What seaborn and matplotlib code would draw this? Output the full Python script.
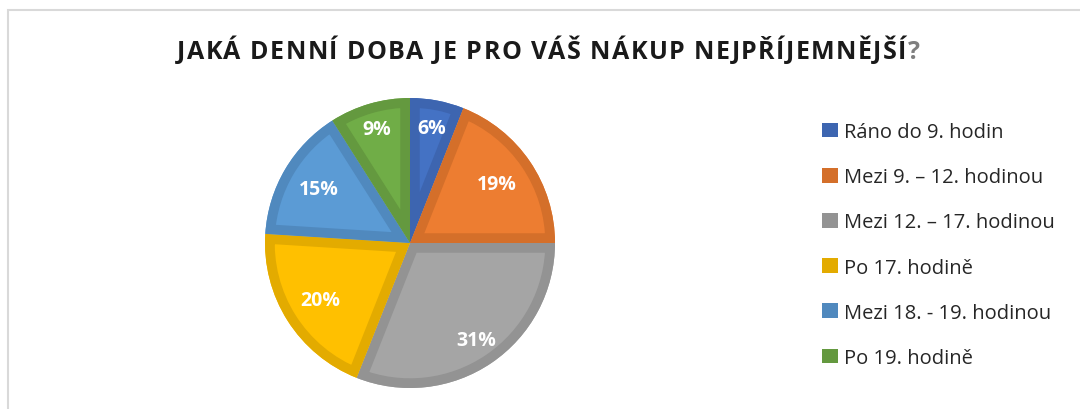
import matplotlib
matplotlib.use("Agg")
import matplotlib.pyplot as plt
import seaborn as sns
from matplotlib.patches import Rectangle, Patch, Wedge

categories = ["Ráno do 9. hodin", "Mezi 9. – 12. hodinou", "Mezi 12. – 17. hodinou",
              "Po 17. hodině", "Mezi 18. - 19. hodinou", "Po 19. hodině"]
shares = [6, 19, 31, 20, 15, 9]
fill_colors = ["#4472C4", "#ED7D31", "#A5A5A5", "#FFC000", "#5B9BD5", "#70AD47"]
edge_colors = ["#3D65B0", "#D46F2A", "#939393", "#E3AB00", "#5089BE", "#64993F"]
title_main = "JAKÁ DENNÍ DOBA JE PRO VÁŠ NÁKUP NEJPŘÍJEMNĚJŠÍ"

sns.set_theme(style="white")
plt.rcParams['font.family'] = ['Open Sans', 'DejaVu Sans']

W, H = 1080, 410
fig = plt.figure(figsize=(W / 100, H / 100), dpi=100)
fig.patch.set_facecolor("white")

# chart frame (top + left edges visible)
fig.add_artist(Rectangle((8 / W, -0.1), 1.2, (H - 11) / H + 0.1, transform=fig.transFigure,
                         fill=False, edgecolor="#D9D9D9", linewidth=1.5))

cx, cy, r = 410, 244, 145
ax = fig.add_axes([(cx - r) / W, (H - cy - r) / H, 2 * r / W, 2 * r / H])
palette = sns.color_palette(fill_colors)
pct_dist = 0.77
wedges, texts, autotexts = ax.pie(shares, colors=palette, startangle=90, counterclock=False,
                                  autopct=lambda p: f"{p:.0f}%", pctdistance=pct_dist,
                                  wedgeprops=dict(linewidth=0))
# darker inner border on every slice
for w, ec in zip(wedges, edge_colors):
    border = Wedge(w.center, w.r, w.theta1, w.theta2, facecolor="none",
                   edgecolor=ec, linewidth=14, joinstyle="miter")
    ax.add_patch(border)
    border.set_clip_path(w)

# label radius differs a bit per slice, like in the original
label_radius = [0.81, 0.72, 0.81, 0.73, 0.73, 0.82]
for t, lr in zip(autotexts, label_radius):
    px, py = t.get_position()
    t.set_position((px * lr / pct_dist, py * lr / pct_dist))
    t.set_color("white")
    t.set_fontweight("bold")
    t.set_fontsize(14)
    t.set_zorder(5)
ax.set_xlim(-1, 1)
ax.set_ylim(-1, 1)
ax.set_aspect("equal")
ax.axis("off")

# title with letter spacing, stretched from x=177 to x=920
renderer = fig.canvas.get_renderer()
chars = list(title_main) + ["?"]
objs = []
for ch in chars:
    col = "#7F7F7F" if ch == "?" else "#1A1A1A"
    objs.append(fig.text(0, 1 - 59 / H, ch, ha="left", va="baseline",
                         fontsize=18, fontweight="bold", color=col))
widths = [o.get_window_extent(renderer).width for o in objs]
x0, x1 = 177, 920
gap = (x1 - x0 - sum(widths)) / (len(chars) - 1)
x = x0
for o, wd in zip(objs, widths):
    o.set_x(x / W)
    x += wd + gap

handles = [Patch(facecolor=c, edgecolor="none") for c in edge_colors]
fig.legend(handles, categories, loc="center left", bbox_to_anchor=(814 / W, 1 - 246 / H),
           frameon=False, fontsize=14.5, handlelength=0.8, handleheight=0.75,
           handletextpad=0.3, labelspacing=1.25, borderaxespad=0)

fig.savefig("out.png", dpi=100)
